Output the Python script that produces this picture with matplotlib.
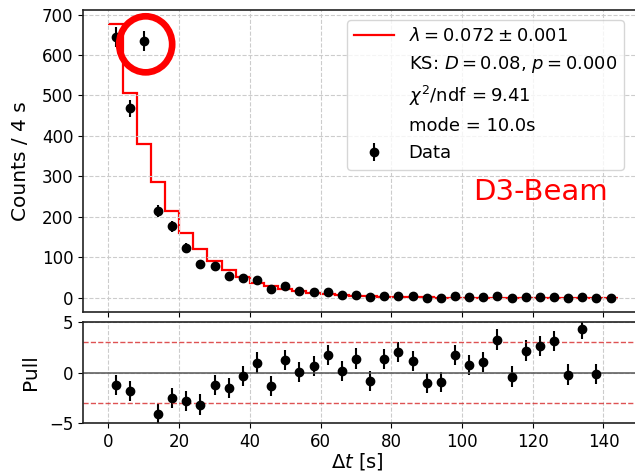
import numpy as np
import matplotlib.pyplot as plt
from matplotlib.lines import Line2D
from matplotlib.patches import Ellipse

# bin edges (4 s bins) and bin centres
edges = np.arange(0, 148, 4)
centers = np.arange(2, 144, 4)

# observed counts per bin
counts = [645, 468, 635, 215, 177, 124, 85, 78, 55, 49, 45, 22, 29, 16, 15, 14,
          8, 8, 3, 5, 5, 4, 1, 1, 4, 2, 3, 5, 1, 3, 3, 3, 1, 2, 1, 1]

# fitted model (step histogram)
model = [677, 507, 381, 286, 214, 160, 120, 90, 68, 51, 38, 29, 21, 16, 12, 9,
         7, 5, 4, 3, 2.2, 1.7, 1.2, 0.9, 0.7, 0.5, 0.4, 0.3, 0.2, 0.17, 0.13,
         0.1, 0.07, 0.05, 0.04, 0.03]

# pulls (bins 10 s and 142 s fall outside the panel)
pull_x = [2, 6, 14, 18, 22, 26, 30, 34, 38, 42, 46, 50, 54, 58, 62, 66, 70, 74,
          78, 82, 86, 90, 94, 98, 102, 106, 110, 114, 118, 122, 126, 130, 134, 138]
pull = [-1.25, -1.8, -4.1, -2.5, -2.8, -3.15, -1.25, -1.5, -0.35, 0.98, -1.35,
        1.24, 0.03, 0.62, 1.7, 0.16, 1.37, -0.86, 1.34, 2.0, 1.14, -1.02, -0.92,
        1.7, 0.75, 1.04, 3.24, -0.4, 2.16, 2.62, 3.1, -0.2, 4.26, -0.14]

legend_lines = [r'$\lambda = 0.072 \pm 0.001$',
                r'KS: $D = 0.08$, $p = 0.000$',
                r'$\chi^2$/ndf$\,= 9.41$',
                'mode = 10.0s']

fig = plt.figure(figsize=(6.35, 4.75), dpi=100)
ax = fig.add_axes([0.1307, 0.3438, 0.882, 0.635])
axp = fig.add_axes([0.1307, 0.1088, 0.882, 0.2139], sharex=ax)

grid_kw = dict(color='#cccccc', linestyle='--', linewidth=0.8)

# top panel
ax.stairs(model, edges, baseline=None, color='red', linewidth=1.6)
eb = ax.errorbar(centers, counts, yerr=np.sqrt(counts), fmt='o', color='black',
                 markersize=6, elinewidth=1.5, capsize=0)
ax.set_xlim(-7.2, 151.2)
ax.set_ylim(-34, 711)
ax.set_yticks(range(0, 701, 100))
ax.set_ylabel('Counts / 4 s', fontsize=14.5)
ax.yaxis.set_label_coords(-0.094, 0.5)
ax.tick_params(labelsize=12, labelbottom=False)
ax.grid(True, **grid_kw)

blank = Line2D([], [], linestyle='none', marker='none')
handles = [Line2D([], [], color='red', linewidth=1.6), blank, blank, blank, eb]
labels = legend_lines + ['Data']
ax.legend(handles, labels, loc='upper right', fontsize=13, handlelength=2.2,
          borderaxespad=0, bbox_to_anchor=(0.966, 0.967))

ax.text(103, 262, 'D3-Beam', color='red', fontsize=21, va='center')

# pull panel
axp.errorbar(pull_x, pull, yerr=1, fmt='o', color='black', markersize=6,
             elinewidth=1.5, capsize=0)
axp.axhline(0, color='#555555', linewidth=1.1)
axp.axhline(3, color='#d62728', linestyle='--', linewidth=1, alpha=0.8)
axp.axhline(-3, color='#d62728', linestyle='--', linewidth=1, alpha=0.8)
axp.set_ylim(-5, 5)
axp.set_yticks([-5, 0, 5])
axp.set_xticks(range(0, 141, 20))
axp.set_ylabel('Pull', fontsize=14.5)
axp.yaxis.set_label_coords(-0.076, 0.5)
axp.set_xlabel(r'$\Delta t$ [s]', fontsize=14)
axp.xaxis.set_label_coords(0.49, -0.27)
axp.tick_params(labelsize=12)
axp.grid(True, **grid_kw)

for a in (ax, axp):
    for s in a.spines.values():
        s.set_linewidth(1.2)
        s.set_color('#222222')

# red highlight circle
fig.patches.append(Ellipse((0.2294, 0.9067), 0.0835, 0.118, fill=False,
                           edgecolor='red', linewidth=4.8,
                           transform=fig.transFigure, figure=fig))

fig.savefig('out.png', dpi=100)
